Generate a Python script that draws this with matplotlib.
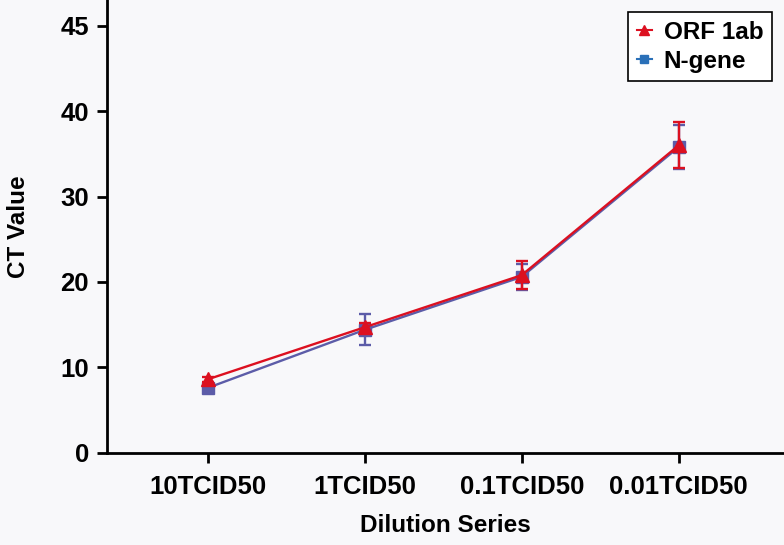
import matplotlib
matplotlib.use("Agg")
import matplotlib.pyplot as plt
from matplotlib.lines import Line2D
import numpy as np

# values
dilutions = ["10TCID50", "1TCID50", "0.1TCID50", "0.01TCID50"]
orf_mean = [8.6, 14.7, 20.8, 36.0]
orf_err = [0.3, 0.5, 1.6, 2.7]
n_mean = [7.6, 14.4, 20.6, 35.8]
n_err = [0.3, 1.8, 1.5, 2.6]
ytick_pos = [0, 10, 20, 30, 40, 50]
ytick_labels = ["0", "10", "20", "30", "40", "45"]

red = "#dc1020"
purple = "#5c5ca8"
bg = "#f8f8fa"

plt.rcParams["font.family"] = ["Liberation Sans", "DejaVu Sans"]
plt.rcParams["font.weight"] = "bold"

fig = plt.figure(figsize=(7.84, 5.45), dpi=100, facecolor=bg)
ax = fig.add_axes([0.1365, 0.169, 0.8635, 0.831], facecolor=bg)

x = np.arange(len(dilutions))
ax.errorbar(x, n_mean, yerr=n_err, color=purple, marker="s", markersize=9,
            lw=1.7, capsize=4.5, capthick=1.7, elinewidth=1.7, zorder=3)
ax.errorbar(x, orf_mean, yerr=orf_err, color=red, marker="^", markersize=9.5,
            lw=1.7, capsize=4.5, capthick=1.7, elinewidth=1.7, zorder=4)

ax.set_xlim(-0.64, 3.67)
ax.set_ylim(0, 53)
ax.set_xticks(x)
ax.set_xticklabels(dilutions, fontsize=18.5, fontweight="bold")
ax.set_yticks(ytick_pos)
ax.set_yticklabels(ytick_labels, fontsize=18.5, fontweight="bold")
ax.tick_params(width=2, length=7, direction="out", colors="black")
ax.tick_params(axis="x", pad=9)
ax.tick_params(axis="y", pad=6)

for side in ["top", "right"]:
    ax.spines[side].set_visible(False)
for side in ["left", "bottom"]:
    ax.spines[side].set_linewidth(2)
    ax.spines[side].set_color("black")

ax.set_xlabel("Dilution Series", fontsize=17.5, fontweight="bold", labelpad=11)
ax.set_ylabel("CT Value", fontsize=17.5, fontweight="bold", labelpad=22)

handles = [
    Line2D([], [], color=red, marker="^", markersize=7, lw=1.5),
    Line2D([], [], color="#2a70b8", marker="s", markersize=6, lw=1.5),
]
leg = ax.legend(handles, ["ORF 1ab", "N-gene"], loc="upper right",
                bbox_to_anchor=(1.0, 1.0), handlelength=0.6,
                handletextpad=0.5, borderpad=0.35, labelspacing=0.25,
                fancybox=False, framealpha=1, facecolor="white",
                edgecolor="black", prop={"weight": "bold", "size": 17.5})
leg.get_frame().set_linewidth(1.2)

fig.savefig("out.png", dpi=100, facecolor=bg)
